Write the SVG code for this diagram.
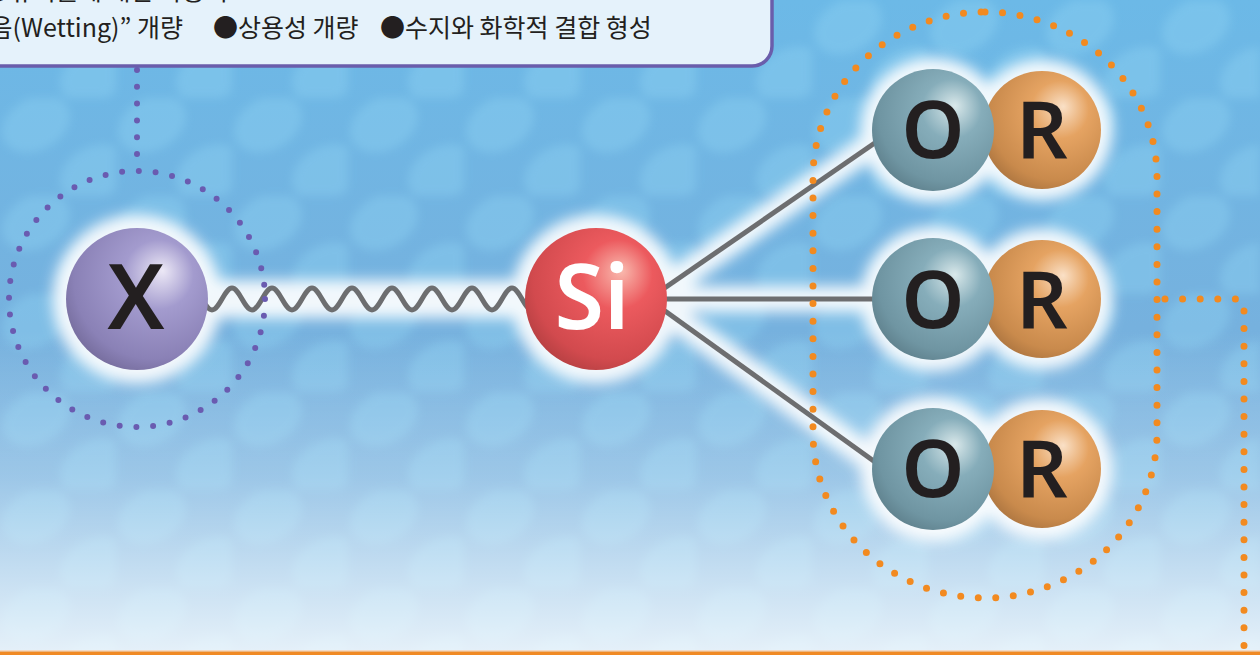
<svg xmlns="http://www.w3.org/2000/svg" width="1260" height="655" viewBox="0 0 1260 655">
  <defs>
    <linearGradient id="bg" x1="0" y1="0" x2="0" y2="1">
      <stop offset="0" stop-color="#6cb9e7"/>
      <stop offset="0.5" stop-color="#76b1de"/>
      <stop offset="1" stop-color="#82b8e2"/>
    </linearGradient>
    <linearGradient id="fade" x1="0" y1="0" x2="0" y2="1">
      <stop offset="0" stop-color="#ffffff" stop-opacity="0"/>
      <stop offset="0.45" stop-color="#ffffff" stop-opacity="0.25"/>
      <stop offset="1" stop-color="#ffffff" stop-opacity="0.8"/>
    </linearGradient>
    <pattern id="cells" width="116" height="98" patternUnits="userSpaceOnUse">
      <ellipse cx="36" cy="26" rx="36" ry="26" transform="rotate(-28 36 26)" fill="#8fd3f3"/>
      <ellipse cx="94" cy="75" rx="36" ry="26" transform="rotate(-28 94 75)" fill="#8fd3f3"/>
    </pattern>
    <filter id="soft" x="-20%" y="-20%" width="140%" height="140%">
      <feGaussianBlur stdDeviation="5"/>
    </filter>
    <filter id="glow" x="-30%" y="-30%" width="160%" height="160%">
      <feGaussianBlur stdDeviation="7"/>
    </filter>
    <radialGradient id="ballX" cx="0.6" cy="0.38" r="0.7" fx="0.68" fy="0.3">
      <stop offset="0" stop-color="#ece8f6"/>
      <stop offset="0.35" stop-color="#a39bce"/>
      <stop offset="0.8" stop-color="#8a81b6"/>
      <stop offset="1" stop-color="#716897"/>
    </radialGradient>
    <radialGradient id="ballSi" cx="0.6" cy="0.38" r="0.7" fx="0.68" fy="0.3">
      <stop offset="0" stop-color="#f9b9ae"/>
      <stop offset="0.35" stop-color="#ec5a5e"/>
      <stop offset="0.8" stop-color="#d24a4e"/>
      <stop offset="1" stop-color="#b03e40"/>
    </radialGradient>
    <radialGradient id="ballO" cx="0.6" cy="0.38" r="0.7" fx="0.68" fy="0.3">
      <stop offset="0" stop-color="#d9e8ea"/>
      <stop offset="0.35" stop-color="#86adba"/>
      <stop offset="0.8" stop-color="#6f95a2"/>
      <stop offset="1" stop-color="#5c7d89"/>
    </radialGradient>
    <radialGradient id="ballR" cx="0.6" cy="0.38" r="0.7" fx="0.68" fy="0.3">
      <stop offset="0" stop-color="#fae0c6"/>
      <stop offset="0.35" stop-color="#e5a362"/>
      <stop offset="0.8" stop-color="#c98a4c"/>
      <stop offset="1" stop-color="#a8723e"/>
    </radialGradient>
    <style>
      .halo { fill: #ffffff; stroke: #ffffff; }
      .bond { fill: none; stroke: #6d6e70; stroke-width: 5; }
      .dotP { fill: none; stroke: #6a5bb0; stroke-width: 6; stroke-linecap: round; stroke-dasharray: 0 16.8; }
      .dotO { fill: none; stroke: #f28a20; stroke-width: 7; stroke-linecap: round; stroke-dasharray: 0 17.6; }
      .sym { font-family: "Noto Sans", "Open Sans", sans-serif; font-weight: 600; font-size: 90px; text-anchor: middle; fill: #231f20; }
      .small { font-size: 80px; }
      .note { font-family: "Noto Sans CJK KR", "Noto Sans", sans-serif; font-size: 25px; fill: #231f20; }
    </style>
  </defs>

  <!-- background -->
  <rect width="1260" height="655" fill="url(#bg)"/>
  <rect width="1260" height="655" fill="url(#cells)" opacity="0.4" filter="url(#soft)"/>
  <rect y="330" width="1260" height="325" fill="url(#fade)"/>
  <rect y="650" width="1260" height="1.5" fill="#f3d9c3"/>
  <rect y="651.5" width="1260" height="3.5" fill="#f08a24"/>

  <!-- note box -->
  <g id="note">
    <rect x="-30" y="-30" width="802" height="96" rx="20" fill="#e5f2fb" stroke="#6a5dab" stroke-width="3.5"/>
    <text class="note" x="228" y="0" text-anchor="end">●유기물에 대한 작용기</text>
    <text class="note" x="183" y="37" text-anchor="end">●“젖음(Wetting)” 개량</text>
    <text class="note" x="213" y="37">●상용성 개량</text>
    <text class="note" x="380" y="37">●수지와 화학적 결합 형성</text>
  </g>

  <!-- soft white halos behind bonds and atoms -->
  <g id="halos" filter="url(#glow)" opacity="0.9">
    <path class="halo" d="M200,299 L530,299" stroke-width="38" fill="none"/>
    <path class="halo" d="M640,305 L880,139 M596,299 L933,299 M640,293 L880,466" stroke-width="26" fill="none"/>
    <circle class="halo" cx="137" cy="299" r="84"/>
    <circle class="halo" cx="596" cy="299" r="84"/>
    <circle class="halo" cx="933" cy="130" r="72"/>
    <circle class="halo" cx="1042" cy="130" r="70"/>
    <circle class="halo" cx="933" cy="299" r="72"/>
    <circle class="halo" cx="1042" cy="299" r="70"/>
    <circle class="halo" cx="933" cy="469" r="72"/>
    <circle class="halo" cx="1042" cy="469" r="70"/>
  </g>

  <!-- connectors -->
  <g id="connectors">
    <path class="bond" d="M192,288 C199.3,288 204.7,310 212,310 C219.3,310 224.7,288 232,288 C239.3,288 244.7,310 252,310 C259.3,310 264.7,288 272,288 C279.3,288 284.7,310 292,310 C299.3,310 304.7,288 312,288 C319.3,288 324.7,310 332,310 C339.3,310 344.7,288 352,288 C359.3,288 364.7,310 372,310 C379.3,310 384.7,288 392,288 C399.3,288 404.7,310 412,310 C419.3,310 424.7,288 432,288 C439.3,288 444.7,310 452,310 C459.3,310 464.7,288 472,288 C479.3,288 484.7,310 492,310 C499.3,310 504.7,288 512,288 C519.3,288 524.7,310 532,310"/>
    <line class="bond" x1="640" y1="305" x2="882" y2="138"/>
    <line class="bond" x1="596" y1="299" x2="933" y2="299"/>
    <line class="bond" x1="640" y1="293" x2="882" y2="467"/>
    <path class="dotP" d="M137,70 L137,170"/>
    <path class="dotO" d="M1165,299 L1237,299 M1244,311 L1244,650"/>
  </g>

  <!-- X: organic functional group -->
  <g id="node-x">
    <circle cx="137" cy="299" r="71" fill="url(#ballX)"/>
    <text class="sym" x="136" y="329">X</text>
  </g>

  <!-- Si: silicon centre -->
  <g id="node-si">
    <circle cx="596" cy="299" r="71" fill="url(#ballSi)"/>
    <text class="sym" x="592" y="329" style="fill:#ffffff">Si</text>
  </g>

  <!-- OR: alkoxy groups -->
  <g id="node-r1">
    <circle cx="1042" cy="130" r="59" fill="url(#ballR)"/>
    <text class="sym small" x="1042" y="158">R</text>
  </g>
  <g id="node-o1">
    <circle cx="933" cy="130" r="61" fill="url(#ballO)"/>
    <text class="sym small" x="933" y="158">O</text>
  </g>
  <g id="node-r2">
    <circle cx="1042" cy="299" r="59" fill="url(#ballR)"/>
    <text class="sym small" x="1042" y="328">R</text>
  </g>
  <g id="node-o2">
    <circle cx="933" cy="299" r="61" fill="url(#ballO)"/>
    <text class="sym small" x="933" y="328">O</text>
  </g>
  <g id="node-r3">
    <circle cx="1042" cy="469" r="59" fill="url(#ballR)"/>
    <text class="sym small" x="1042" y="497">R</text>
  </g>
  <g id="node-o3">
    <circle cx="933" cy="469" r="61" fill="url(#ballO)"/>
    <text class="sym small" x="933" y="497">O</text>
  </g>

  <!-- dotted grouping outlines -->
  <g id="outlines">
    <circle class="dotP" cx="137" cy="299" r="128"/>
    <rect class="dotO" x="813" y="12" width="344" height="586" rx="172" ry="165"/>
  </g>
</svg>
